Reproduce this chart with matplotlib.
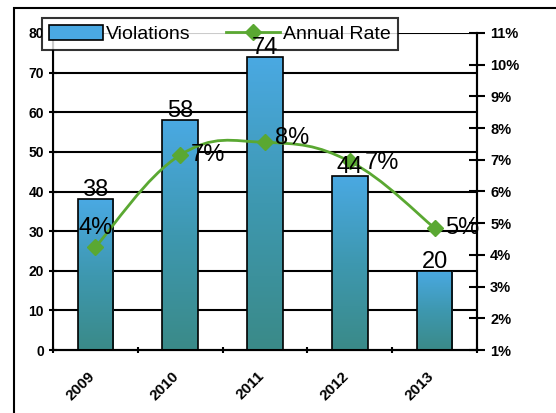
import matplotlib
matplotlib.use("Agg")
import matplotlib.pyplot as plt
import matplotlib.transforms as mtransforms
import numpy as np
from matplotlib.path import Path
from matplotlib.patches import PathPatch, Rectangle
from matplotlib.lines import Line2D

years = ["2009", "2010", "2011", "2012", "2013"]
violations = [38, 58, 74, 44, 20]
rate = [4.25, 7.15, 7.55, 6.95, 4.85]
rate_labels = ["4%", "7%", "8%", "7%", "5%"]

plt.rcParams["font.family"] = ["Liberation Sans", "DejaVu Sans"]

fig = plt.figure(figsize=(5.56, 4.13), dpi=100)
fig.patches.append(Rectangle((14 / 556, -0.1), 1.2, 1 - 8 / 413 + 0.1,
                             transform=fig.transFigure, fill=False,
                             edgecolor="black", lw=1.5))

ax = fig.add_axes([53 / 556, 1 - 350 / 413, (477 - 53) / 556, (350 - 33) / 413])
ax2 = ax.twinx()
x = np.arange(len(years))

# bars with a blue-to-teal gradient
grad = np.linspace(0, 1, 256).reshape(-1, 1)
cmap = matplotlib.colors.LinearSegmentedColormap.from_list(
    "bar", ["#3a8a88", "#3e98b0", "#4aa9e3"])
bars = ax.bar(x, violations, width=0.42, color="none", edgecolor="black",
              lw=1.2, zorder=3)
for b in bars:
    im = ax.imshow(grad, cmap=cmap, origin="lower", aspect="auto",
                   extent=[b.get_x(), b.get_x() + b.get_width(), 0, b.get_height()],
                   zorder=2)
    im.set_clip_path(b)
ax.set_xlim(-0.5, 4.5)
ax.set_ylim(0, 80)

ax.set_yticks(range(0, 90, 10))
ax.yaxis.grid(True, color="black", lw=1.5, zorder=1)
ax.set_axisbelow(True)
ax.set_xticks(np.arange(-0.5, 5, 1))
ax.set_xticklabels([])
ax.tick_params(axis="x", length=5, width=1.5, direction="inout")
ax.tick_params(axis="y", length=6, width=1.5, direction="inout", labelsize=10)
for lab in ax.get_yticklabels():
    lab.set_fontweight("bold")
ax.spines["top"].set_visible(False)
for s in ["left", "bottom", "right"]:
    ax.spines[s].set_linewidth(1.5)

# rotated category labels under each bar
shift = mtransforms.ScaledTranslation(-8 / 100, -19 / 100, fig.dpi_scale_trans)
for xi, yr in zip(x, years):
    ax.text(xi, 0, yr, transform=ax.get_xaxis_transform() + shift,
            rotation=45, ha="right", va="top", rotation_mode="anchor",
            fontsize=11, fontweight="bold", clip_on=False)

# smoothed rate line
ax2.set_ylim(1, 11)
ax2.set_yticks(range(1, 12))
ax2.set_yticklabels([f"{v}%" for v in range(1, 12)], fontsize=10.5, fontweight="bold")
ax2.tick_params(axis="y", length=11, width=1.5, direction="inout", pad=4)
ax2.spines["top"].set_visible(False)
ax2.spines["right"].set_linewidth(1.5)

pts = np.column_stack([x, rate]).astype(float)
verts = [pts[0]]
codes = [Path.MOVETO]
t = 0.2
for i in range(len(pts) - 1):
    p0 = pts[i - 1] if i > 0 else pts[i]
    p3 = pts[i + 2] if i + 2 < len(pts) else pts[i + 1]
    c1 = pts[i] + (pts[i + 1] - p0) * t
    c2 = pts[i + 1] - (p3 - pts[i]) * t
    verts += [c1, c2, pts[i + 1]]
    codes += [Path.CURVE4] * 3
ax2.add_patch(PathPatch(Path(verts, codes), fill=False, edgecolor="#5aa832",
                        lw=2, zorder=4))
ax2.plot(x, rate, ls="none", marker="D", ms=8, color="#5aa832", zorder=5)

# data labels sit above the legend, as in the original
for xi, v in zip(x, violations):
    ax2.text(xi, v - 0.5, str(v), ha="center", va="bottom", fontsize=17,
             zorder=12, transform=ax.transData)

offsets = [(0, 0.6, "center"), (0.12, 0, "left"), (0.12, 0.15, "left"),
           (0.18, -0.05, "left"), (0.12, 0, "left")]
for xi, r, lab, (dx, dy, ha) in zip(x, rate, rate_labels, offsets):
    ax2.text(xi + dx, r + dy, lab, ha=ha, va="center", fontsize=17, zorder=12)

# legend
handles = [Rectangle((0, 0), 1, 1, facecolor="#4aa9e3", edgecolor="black", lw=1.2),
           Line2D([0], [0], color="#5aa832", lw=2, marker="D", ms=8)]
leg = ax2.legend(handles, ["Violations", "Annual Rate"], loc="upper left",
                 bbox_to_anchor=(42 / 556, 1 - 18 / 413),
                 bbox_transform=fig.transFigure, ncol=2, fontsize=14,
                 frameon=True, fancybox=False, edgecolor="black",
                 borderpad=0.35, handlelength=2.8, handleheight=0.85,
                 handletextpad=0.15, columnspacing=1.8, borderaxespad=0)
leg.get_frame().set_linewidth(1.5)
leg.set_zorder(10)

fig.savefig("out.png", dpi=100)
